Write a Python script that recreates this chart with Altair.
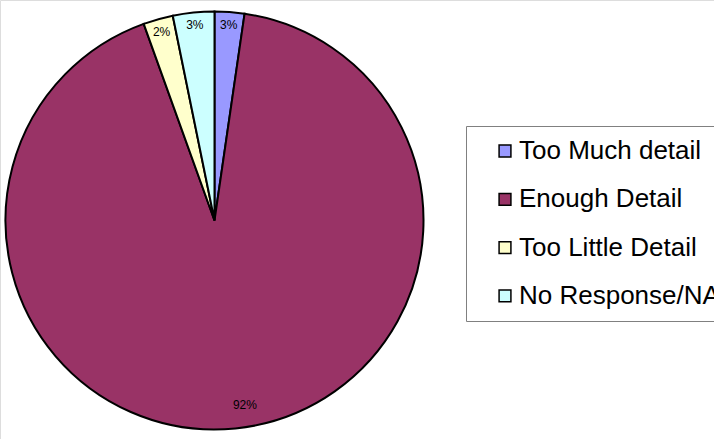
import altair as alt
import pandas as pd

categories = ["Too Much detail", "Enough Detail", "Too Little Detail", "No Response/NA"]
values = [2.3, 92.2, 2.3, 3.2]
labels = ["3%", "92%", "2%", "3%"]
colors = ["#9999FF", "#993366", "#FFFFCC", "#CCFFFF"]

df = pd.DataFrame({
    "category": categories,
    "value": values,
    "label": labels,
    "order": list(range(len(categories))),
})

CX, CY, R = 214.5, 220.5, 209
total = sum(values)

theta_scale = alt.Scale(domain=[0, total])

pie = alt.Chart(df).mark_arc(outerRadius=R, stroke="black", strokeWidth=2).encode(
    theta=alt.Theta("value:Q", stack=True, scale=theta_scale),
    order=alt.Order("order:Q"),
    x=alt.value(CX),
    y=alt.value(CY),
    color=alt.Color(
        "category:N",
        scale=alt.Scale(domain=categories, range=colors),
        sort=categories,
        legend=alt.Legend(
            title=None,
            orient="none",
            legendX=466,
            legendY=126,
            direction="vertical",
            symbolType="square",
            symbolSize=140,
            symbolStrokeColor="black",
            symbolStrokeWidth=1.5,
            symbolOffset=14,
            labelFont="Liberation Sans",
            labelFontSize=26,
            labelColor="black",
            labelOffset=1,
            labelLimit=400,
            rowPadding=22.3,
            padding=12,
            strokeColor="#808080",
            fillColor="white",
        ),
    ),
)

text_base = alt.Chart(df).transform_window(
    cum="sum(value)", sort=[alt.SortField("order")]
).transform_calculate(
    mid="datum.cum - datum.value / 2"
).encode(
    theta=alt.Theta("mid:Q", stack=None, scale=theta_scale),
    x=alt.value(CX),
    y=alt.value(CY),
    text="label:N",
)

small_text = text_base.transform_filter(alt.datum.value < 50).mark_text(
    radius=196, font="Liberation Sans", fontSize=12, color="black"
)

big_text = text_base.transform_filter(alt.datum.value >= 50).mark_text(
    radius=184, dx=12, dy=1, font="Liberation Sans", fontSize=12, color="black"
)

chart = alt.layer(pie, small_text, big_text).properties(
    width=714, height=439, padding=0, autosize=alt.AutoSizeParams(type="none")
).configure_view(stroke=None).configure(background="white")

chart.save("out.html", embed_options={"renderer": "svg", "actions": False})
